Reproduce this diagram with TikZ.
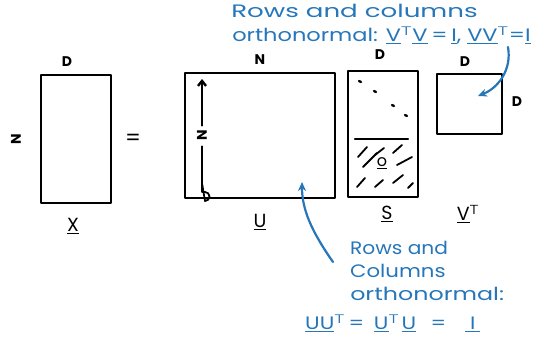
\documentclass[tikz,border=0pt]{standalone}
\usepackage{fontspec}
\setmainfont{Poppins}
\usetikzlibrary{arrows.meta}
\definecolor{inkblue}{RGB}{38,118,186}
\tikzset{
  pen/.style={line width=2.4pt, line cap=round, line join=round, black},
  bluepen/.style={line width=2.2pt, line cap=round, inkblue},
  dimlbl/.style={font=\fontsize{14}{14}\selectfont\bfseries, inner sep=0pt},
  matlbl/.style={font=\fontsize{19}{19}\selectfont, inner sep=0pt},
  note/.style={font=\fontsize{18}{18}\selectfont, text=inkblue, inner sep=0pt, anchor=west,
               text height=12pt, text depth=3pt},
}
\newcommand{\ul}[1]{\underline{#1}}
\begin{document}
\begin{tikzpicture}[x=1pt,y=-1pt]
\useasboundingbox (0,0) rectangle (541,343);

% X
\draw[pen] (41,75) rectangle (111,203);
\node[dimlbl] (xd) at (67,62) {D};
\node[dimlbl, rotate=90] (xn) at (16,139) {N};
\node[matlbl] (xl) at (73,226) {\ul{X}};
\node[font=\fontsize{22}{22}\selectfont] (eq) at (133,140) {=};

% U
\draw[pen] (185,73) rectangle (335,198);
\node[dimlbl] (un) at (260,60) {N};
\node[dimlbl, rotate=90] (uin) at (202,135) {N};
\coordinate (utop) at (202,79);
\coordinate (ubot) at (202,183);
\draw[pen, -{Straight Barb[length=5pt,width=8pt]}] (uin.east) ++(0,-4) -- (utop);
\draw[pen] (uin.west) ++(0,6) -- (ubot);
\draw[line width=1.8pt, line join=round] (ubot) -- (202,192) -- (205,192) arc (-90:90:4.5) -- (ubot);
\node[matlbl] (ul) at (260,222) {\ul{U}};

% S
\draw[pen] (348,71) rectangle (418,197);
\draw[pen] (355,139) -- (408,139);
\node[dimlbl] (sd) at (380,55) {D};
\foreach \a/\b in {359/81,374/91,392/105,405/115}
  \draw[pen] (\a,\b) -- ++(2,1);
\foreach \a/\b/\c/\d in {358/157/367/147, 375/155/384/148, 393/153/402/145,
                         397/165/412/157, 363/167/377/153, 357/187/365/178,
                         375/187/383/180, 393/183/403/175, 408/188/413/183}
  \draw[line width=1.8pt, line cap=round] (\a,\b) -- (\c,\d);
\node[font=\fontsize{16}{16}\selectfont, inner sep=1pt] (zero) at (382,163) {\ul{o}};
\node[matlbl] (sl) at (387,214) {\ul{S}};

% V^T
\draw[pen] (437,74) rectangle (502,134);
\node[dimlbl] (vd) at (465,62) {D};
\node[dimlbl] (vd2) at (517,102) {D};
\node[matlbl] (vl) at (468,214) {\ul{V}$^{\mathsf{T}}$};

% top annotation
\node[note, xscale=1.45] (t1) at (231,13) {Rows and columns};
\node[note, xscale=1.25] (t2) at (232,37) {orthonormal: \ul{V}$^{\mathsf T}$\ul{V}\,=\,\ul{I}, \ul{V}\ul{V}$^{\mathsf T}$=\ul{I}};
\coordinate (ta) at (508,47);
\coordinate (tb) at (478,96);
\draw[bluepen, -{Stealth[length=9pt,width=8pt]}] (ta) .. controls (512,70) and (498,88) .. (tb);

% bottom annotation
\node[note, xscale=1.12] (b1) at (350,250) {Rows and};
\node[note, xscale=1.18] (b2) at (350,273) {Columns};
\node[note, xscale=1.32] (b3) at (350,296) {orthonormal:};
\node[note, xscale=1.2] (b4) at (305,325)
  {\ul{U}\ul{U}$^{\mathsf T}$\hspace{3pt}=\hspace{8pt}\ul{U}$^{\mathsf T}$\hspace{2pt}\ul{U}\hspace{12pt}=\hspace{16pt}\ul{\hspace{4pt}I\hspace{4pt}}};
\coordinate (ba) at (333,262);
\coordinate (bb) at (302,182);
\draw[bluepen, -{Stealth[length=9pt,width=8pt]}] (ba) .. controls (312,232) and (302,210) .. (bb);
\end{tikzpicture}
\end{document}
